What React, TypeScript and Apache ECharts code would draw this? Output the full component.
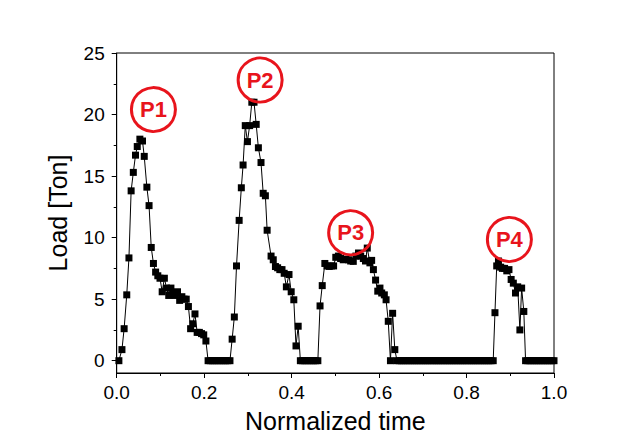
import React, { useEffect, useRef } from "react";
import * as echarts from "echarts";

// Peak P1 (rise, peak and decay)
const timesP1 = [0.005, 0.012, 0.017, 0.023, 0.028, 0.033, 0.038, 0.043, 0.047, 0.053, 0.059, 0.063, 0.069, 0.074, 0.079, 0.084, 0.089, 0.094, 0.099, 0.104, 0.109, 0.114, 0.119, 0.124, 0.129, 0.134, 0.139, 0.144, 0.149, 0.154, 0.159, 0.164, 0.169, 0.174, 0.179, 0.184, 0.189, 0.194, 0.199, 0.204];
const loadsP1 = [0, 0.9, 2.6, 5.35, 8.35, 13.8, 15.3, 16.7, 17.4, 18.0, 17.85, 16.6, 14.1, 12.6, 9.2, 7.9, 7.2, 6.9, 6.7, 5.6, 6.7, 5.9, 5.3, 5.9, 5.5, 5.3, 5.6, 4.9, 5.2, 5.0, 5.0, 4.4, 2.6, 3.0, 3.8, 2.3, 2.3, 2.2, 2.1, 1.6];

const timesZero1 = [0.209, 0.214, 0.219, 0.224, 0.229, 0.234, 0.239, 0.244, 0.249, 0.254, 0.259];
const loadsZero1 = [0, 0, 0, 0, 0, 0, 0, 0, 0, 0, 0];

const timesP2 = [0.264, 0.269, 0.274, 0.280, 0.285, 0.289, 0.294, 0.299, 0.304, 0.309, 0.314, 0.319, 0.324, 0.330, 0.335, 0.340, 0.344, 0.353, 0.358, 0.363, 0.368, 0.373, 0.378, 0.383, 0.388, 0.394, 0.399, 0.405, 0.410, 0.415];
const loadsP2 = [1.75, 3.55, 7.7, 11.4, 14.05, 15.9, 19.1, 17.8, 19.1, 21.0, 21.0, 19.2, 17.3, 16.1, 13.6, 13.4, 10.6, 8.5, 8.2, 7.65, 7.55, 7.4, 7.4, 7.1, 6.0, 7.0, 5.6, 4.95, 1.2, 2.8];

const timesZero2 = [0.420, 0.425, 0.430, 0.435, 0.440, 0.445, 0.450, 0.455, 0.460];
const loadsZero2 = [0, 0, 0, 0, 0, 0, 0, 0, 0];

const timesP3 = [0.465, 0.470, 0.476, 0.481, 0.486, 0.491, 0.496, 0.501, 0.507, 0.512, 0.518, 0.524, 0.530, 0.535, 0.541, 0.547, 0.553, 0.558, 0.564, 0.569, 0.573, 0.579, 0.583, 0.587, 0.592, 0.597, 0.602, 0.606, 0.612, 0.616, 0.621, 0.626, 0.631, 0.636];
const loadsP3 = [4.45, 6.1, 7.9, 7.7, 7.66, 7.7, 7.7, 8.4, 8.5, 8.3, 8.2, 8.25, 8.2, 8.1, 8.07, 8.5, 8.75, 8.5, 8.3, 8.1, 9.15, 7.95, 8.15, 7.4, 6.55, 5.65, 5.9, 5.5, 5.35, 4.95, 3.2, 0, 3.85, 0.9];

const timesZero3 = [0.641, 0.646, 0.651, 0.656, 0.661, 0.666, 0.671, 0.676, 0.681, 0.686, 0.691, 0.696, 0.701, 0.706, 0.711, 0.716, 0.721, 0.726, 0.731, 0.736, 0.741, 0.746, 0.751, 0.756, 0.761, 0.766, 0.771, 0.776, 0.781, 0.786, 0.791, 0.796, 0.801, 0.806, 0.811, 0.816, 0.821, 0.826, 0.831, 0.836, 0.841, 0.846, 0.851, 0.856, 0.861];
const loadsZero3 = [0, 0, 0, 0, 0, 0, 0, 0, 0, 0, 0, 0, 0, 0, 0, 0, 0, 0, 0, 0, 0, 0, 0, 0, 0, 0, 0, 0, 0, 0, 0, 0, 0, 0, 0, 0, 0, 0, 0, 0, 0, 0, 0, 0, 0];

const timesP4 = [0.865, 0.869, 0.873, 0.878, 0.882, 0.887, 0.892, 0.897, 0.902, 0.907, 0.912, 0.917, 0.922, 0.926, 0.931];
const loadsP4 = [3.9, 7.7, 8.1, 7.6, 7.5, 7.5, 7.3, 7.4, 6.6, 6.3, 5.5, 6.0, 2.5, 5.9, 4.0];

const timesZero4 = [0.935, 0.940, 0.945, 0.950, 0.955, 0.960, 0.965, 0.970, 0.975, 0.980, 0.985, 0.990, 0.995, 1.0];
const loadsZero4 = [0, 0, 0, 0, 0, 0, 0, 0, 0, 0, 0, 0, 0, 0];

// Peak annotations
const peakNames = ["P1", "P2", "P3", "P4"];
const peakTimes = [0.084, 0.328, 0.535, 0.898];
const peakLoads = [20.4, 22.8, 10.4, 9.85];

// Axis ticks
const yLabelValues = [0, 5, 10, 15, 20, 25];
const yMinorValues = [2.5, 7.5, 12.5, 17.5, 22.5];

const FONT = "Arial, 'Liberation Sans', sans-serif";
const RED = "#e8141c";

export default function App() {
  const ref = useRef<HTMLDivElement>(null);
  useEffect(() => {
    if (!ref.current) return;
    const chart = echarts.init(ref.current, undefined, { renderer: "svg" });
    const allTimes = [...timesP1, ...timesZero1, ...timesP2, ...timesZero2, ...timesP3, ...timesZero3, ...timesP4, ...timesZero4];
    const allLoads = [...loadsP1, ...loadsZero1, ...loadsP2, ...loadsZero2, ...loadsP3, ...loadsZero3, ...loadsP4, ...loadsZero4];
    const data = allTimes.map((t, i) => [t, allLoads[i]]);
    const peaks = peakNames.map((n, i) => ({ name: n, value: [peakTimes[i], peakLoads[i]] }));

    const grid = { left: 116.7, top: 53, width: 437.3, height: 320 };
    chart.setOption({
      animation: false,
      backgroundColor: "#ffffff",
      grid: { ...grid, show: true, borderColor: "#000", borderWidth: 1, backgroundColor: "transparent" },
      xAxis: {
        type: "value",
        min: 0,
        max: 1,
        interval: 0.2,
        name: "Normalized time",
        nameLocation: "middle",
        nameGap: 35,
        nameTextStyle: { fontFamily: FONT, fontSize: 25, color: "#000" },
        axisLine: { show: true, onZero: false, lineStyle: { color: "#000", width: 1 } },
        axisTick: { show: true, inside: false, length: 5, lineStyle: { color: "#000" } },
        minorTick: { show: true, splitNumber: 2, length: 3, lineStyle: { color: "#000" } },
        axisLabel: { fontFamily: FONT, fontSize: 19, color: "#000", margin: 10, formatter: (v: number) => v.toFixed(1) },
        splitLine: { show: false },
      },
      yAxis: [
        {
          type: "value",
          min: -1,
          max: 25,
          name: "Load [Ton]",
          nameLocation: "middle",
          nameGap: 46,
          nameTextStyle: { fontFamily: FONT, fontSize: 25, color: "#000" },
          axisLine: { show: true, onZero: false, lineStyle: { color: "#000", width: 1 } },
          axisTick: { show: true, inside: false, length: 5, customValues: yLabelValues, lineStyle: { color: "#000" } },
          axisLabel: { fontFamily: FONT, fontSize: 19, color: "#000", margin: 12, customValues: yLabelValues },
          splitLine: { show: false },
        },
        {
          type: "value",
          min: -1,
          max: 25,
          position: "left",
          axisLine: { show: false },
          axisTick: { show: true, inside: false, length: 3, customValues: yMinorValues, lineStyle: { color: "#000" } },
          axisLabel: { show: false },
          splitLine: { show: false },
        },
      ],
      series: [
        {
          type: "line",
          data,
          yAxisIndex: 0,
          symbol: "rect",
          symbolSize: [7, 7],
          showAllSymbol: true,
          lineStyle: { color: "#000", width: 1 },
          itemStyle: { color: "#000" },
          emphasis: { disabled: true },
          z: 3,
        },
        {
          type: "scatter",
          data: peaks,
          yAxisIndex: 0,
          symbol: "circle",
          symbolSize: 44,
          itemStyle: { color: "rgba(255,255,255,0)", borderColor: RED, borderWidth: 3, opacity: 1 },
          emphasis: { disabled: true },
          label: {
            show: true,
            position: "inside",
            formatter: (p: any) => p.name,
            fontFamily: FONT,
            fontWeight: "bold",
            fontSize: 22,
            color: RED,
            opacity: 1,
          },
          z: 5,
        },
      ],
    });
    return () => chart.dispose();
  }, []);
  return <div ref={ref} style={{ position: "fixed", left: 0, top: 0, width: 644, height: 448 }} />;
}
